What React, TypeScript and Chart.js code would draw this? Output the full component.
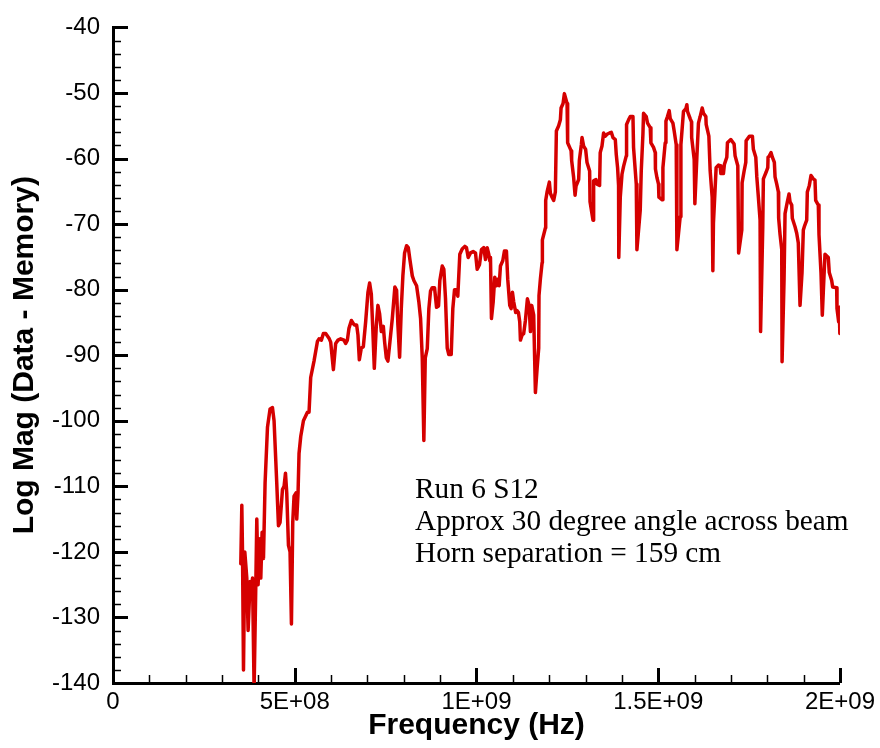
import React, { useEffect, useRef } from "react";
import { Chart, registerables } from "chart.js";

Chart.register(...registerables);

// Frequency in MHz (converted to Hz when building the dataset)
const freqMHz = [
  351.6, 354.4, 356.3, 359, 362.6, 368.1, 371.7, 377.2, 381, 383.8, 388.2, 392.9, 395.6, 399.2, 403.8, 406.6,
  410.2, 414, 418.4, 425, 432.1, 438.7, 443.1, 450.5, 455.2, 459.6, 466.2, 470.6, 474.5, 478, 482.7, 487.1,
  490.9, 494.5, 498.1, 503.6, 505.5, 509.1, 511.8, 516.5, 523.9, 534.9, 539.3, 543.9, 553, 562.4, 566.8,
  573.4, 578.8, 585.2, 594.2, 598.9, 606.3, 612.6, 619, 626.4, 635.4, 640.1, 644.8, 649.2, 655.8, 661.3,
  664.8, 670.3, 673.9, 677.7, 683.2, 688.7, 695.1, 701.4, 706, 710.7, 714.3, 718.9, 724.5, 728.8, 733.5,
  738.2, 743.7, 747.3, 751.9, 756.3, 761.8, 768.4, 775.5, 780.2, 783.8, 788.5, 793.1, 797.5, 802.2, 807.7,
  812.4, 816.8, 823.4, 827.7, 835.2, 841.5, 846.2, 850.8, 855.2, 859.1, 864.6, 869, 873.6, 878.3, 884.6,
  890.1, 895.6, 899.2, 905.8, 910.2, 914.8, 919.5, 923.9, 930.5, 934.9, 939.6, 944.2, 948.6, 954.1, 960.7,
  967.9, 972.5, 977.2, 983.5, 990.9, 997.3, 1001.9, 1008.2, 1013.7, 1020.1, 1024.7, 1029.4, 1033.8, 1036.5,
  1038.5, 1041.2, 1045.9, 1050.3, 1054.9, 1058.5, 1062.4, 1065.9, 1072.3, 1076.9, 1082.4, 1086, 1091.5,
  1095.3, 1098.9, 1102.5, 1108, 1111.8, 1115.4, 1119, 1120.9, 1125.5, 1129.9, 1134.6, 1140.1, 1144.8,
  1148.4, 1151.9, 1157.4, 1162.1, 1166.8, 1171.2, 1172, 1175.8, 1180.5, 1181.3, 1189.6, 1190.4, 1194.2,
  1200.5, 1203.3, 1207.9, 1212.4, 1217, 1219.8, 1226.1, 1230.8, 1232.7, 1238.2, 1241.8, 1249.2, 1250.8,
  1256.3, 1260.2, 1261.8, 1267.3, 1271.2, 1273.9, 1281.1, 1283, 1288.5, 1290.4, 1294.8, 1300.3, 1304.1,
  1311.3, 1312.4, 1320.6, 1322.3, 1328.8, 1331.6, 1338.7, 1340.4, 1345.3, 1349.7, 1354.4, 1359, 1366.2,
  1370.9, 1375.5, 1381.9, 1384.6, 1388.2, 1390.9, 1391.5, 1395.6, 1400.3, 1404.7, 1412.1, 1412.9, 1418.4,
  1423.1, 1430.5, 1432.1, 1439.6, 1441.4, 1450.5, 1453.3, 1457.9, 1459.6, 1467, 1470.6, 1478, 1479.9,
  1487.1, 1491.8, 1492.3, 1496.4, 1500.8, 1501.9, 1511, 1512.9, 1519.2, 1521.2, 1525.5, 1530.2, 1533,
  1540.4, 1543.9, 1549.5, 1551.4, 1560.4, 1562.4, 1569.5, 1576.1, 1578.8, 1580.5, 1587.9, 1591.5, 1592,
  1598.9, 1600.8, 1606.3, 1610.7, 1615.4, 1620.9, 1624.5, 1631, 1631.9, 1639.3, 1642.9, 1648.4, 1650.3,
  1651.9, 1659.3, 1665.7, 1670.3, 1672.3, 1679.4, 1682.1, 1688.7, 1690.4, 1699.7, 1708.8, 1711.5, 1718.9,
  1721.2, 1729.9, 1730.8, 1736.3, 1740.9, 1741.8, 1750.8, 1759.1, 1761.8, 1768.4, 1771.2, 1775.5, 1780.2,
  1781.6, 1787.6, 1789.3, 1796.7, 1801.4, 1802.2, 1805.8, 1810.4, 1814, 1819.5, 1821.4, 1826.1, 1830.5,
  1831.3, 1835.2, 1839.8, 1840.7, 1846.2, 1848.9, 1855.2, 1859.9, 1862.6, 1867.3, 1868.9, 1876.4, 1881,
  1885.4, 1890.1, 1895.6, 1899.2, 1901.9, 1908.5, 1910.2, 1915.7, 1920.3, 1926.6, 1931.3, 1933.2, 1940.4,
  1942.3, 1947.8, 1951.4, 1954.1, 1958.8, 1967.9, 1970.6, 1977.2, 1979.9, 1990.9, 1991.8, 1996.4, 1998.1,
  1999.2, 2000,
];

// Log magnitude (dB)
const magDb = [
  -121.8, -112.9, -120, -138, -120, -124, -132, -124.5, -127, -124, -141, -125, -115, -125, -118, -124,
  -117, -121, -109.5, -101, -98.2, -98, -100, -109.5, -116, -115.5, -110.5, -110, -108, -111, -119, -120,
  -131, -115.5, -111.5, -111, -115, -111, -105, -102.4, -100, -98.7, -98.7, -93.4, -90.9, -87.9, -87.5,
  -87.7, -86.7, -86.7, -87.4, -88, -92.2, -88.2, -87.7, -87.5, -87.7, -88.2, -87.7, -85.9, -84.7, -85.2,
  -85.4, -85.4, -86.9, -90.7, -88.9, -88.7, -84.9, -80.4, -79, -80.7, -85.4, -92, -85.4, -82.4, -83.7,
  -86.4, -85.6, -88, -90.4, -90.9, -88, -84.4, -79.6, -80.1, -85.4, -90.3, -82.9, -77.9, -74.4, -73.3,
  -73.6, -75.4, -77.9, -78.6, -79.4, -81.9, -84.4, -90.4, -103, -90.4, -89, -82.9, -80.2, -79.7, -79.7,
  -82.7, -82.5, -78.6, -76.4, -76.9, -81.4, -88.9, -89.9, -89.9, -82.9, -80, -80, -81, -74.6, -73.8,
  -73.4, -73.6, -75.1, -74.4, -74.2, -74.4, -76.9, -76.2, -73.9, -73.6, -75.4, -73.6, -74.6, -75.6,
  -75.1, -84.4, -81.9, -78.1, -79.4, -78.4, -79.4, -76.4, -75.6, -74.1, -74.1, -78.4, -82.4,
  -82.9, -80.4, -81.9, -83.5, -83.2, -83.5, -84.9, -87.7, -86.9, -86.7, -84.7, -81.4, -82.4,
  -86.4, -82.4, -83.9, -95.7, -92, -88.9, -80.9, -78.4, -75.9, -72.4, -70.6, -66.4, -65.1,
  -63.6, -65.3, -65.9, -66.4, -65.1, -55.8, -55, -54.1, -52.3, -51.6, -50.1, -51.6, -57.6,
  -58.3, -58.8, -60.3, -62.9, -65.6, -64.2, -63.2, -60.3, -57.9, -56.8, -58.1, -58.6, -60.6,
  -61.9, -66.6, -69.4, -63.4, -63.2, -63.9, -64.1, -59.1, -58.1, -56.1, -56.6, -56.3, -56.1,
  -56, -56.8, -57.1, -59.4, -61.4, -64.1, -75.1, -65.9, -62.4, -61.2, -59.6, -54.8, -54.1,
  -53.6, -53.6, -58.3, -63.9, -73.9, -67.9, -61.9, -56.3, -53.1, -53.6, -54.6, -55.3, -57.6,
  -58.3, -59.1, -61.6, -62.9, -63.9, -65.9, -66.3, -61.4, -57.6, -54.3, -53.6, -52.7, -53.9,
  -54.6, -55.8, -57.9, -73.9, -68.9, -57.9, -52.8, -52.4, -51.8, -52.8, -53.9, -54.4, -56.8,
  -60.1, -66.9, -59.8, -54.6, -53.6, -52.3, -53.1, -53.6, -54.8, -56.6, -61.9, -65.9, -77.1,
  -69.9, -61.4, -61, -61.1, -62.3, -62.3, -60.9, -59.8, -57.6, -57.1, -57.8, -59.6, -61.1,
  -74.4, -70.9, -63.7, -61.9, -60.6, -57.3, -56.6, -56.6, -58.6, -59.8, -62.8, -65.9, -69.4,
  -86.4, -70.4, -63.1, -62.1, -61.4, -59.8, -59.6, -59.1, -59.8, -60.6, -62.8, -63.9, -65.1,
  -69.1, -71.6, -73.9, -91, -78.4, -68.4, -66.6, -65.4, -66.6, -67.1, -69.1, -70.4, -71.4,
  -72.9, -82.4, -77.4, -70.9, -70.4, -69.4, -65.1, -64.1, -62.6, -63.1, -63.3, -66.4, -67.1,
  -71.6, -77.4, -83.9, -80.4, -74.6, -75.1, -77.4, -78.6, -79.6, -79.7, -82.9, -84.9, -82.7,
  -82.7, -86.7,
];

const xTickValues = [0, 5e8, 1e9, 1.5e9, 2e9];
const xTickLabels = ["0", "5E+08", "1E+09", "1.5E+09", "2E+09"];
const yTickLabels = ["-140", "-130", "-120", "-110", "-100", "-90", "-80", "-70", "-60", "-50", "-40"];
const annotationLines = ["Run 6 S12", "Approx 30 degree angle across beam", "Horn separation = 159 cm"];
const xTitle = "Frequency (Hz)";
const yTitle = "Log Mag (Data - Memory)";

const SANS = '"Liberation Sans", Arial, sans-serif';
const SERIF = '"Liberation Serif", "Times New Roman", serif';

const tickMarksPlugin = {
  id: "tickMarks",
  afterDraw(chart: any) {
    const ctx = chart.ctx;
    const xs = chart.scales.x;
    const ys = chart.scales.y;
    const { left, bottom } = chart.chartArea;
    ctx.save();
    ctx.strokeStyle = "#000";
    for (let i = 0; i <= 20; i++) {
      const v = i * 1e8;
      const major = i % 5 === 0;
      const px = Math.round(xs.getPixelForValue(v)) + 0.5;
      ctx.lineWidth = major ? 3 : 1.5;
      ctx.beginPath();
      ctx.moveTo(px, bottom);
      ctx.lineTo(px, bottom - (major ? 15 : 8));
      ctx.stroke();
    }
    for (let i = 0; i <= 50; i++) {
      const v = -140 + i * 2;
      const major = i % 5 === 0;
      const py = Math.round(ys.getPixelForValue(v)) + 0.5;
      ctx.lineWidth = major ? 3 : 1.5;
      ctx.beginPath();
      ctx.moveTo(left, py);
      ctx.lineTo(left + (major ? 15 : 8), py);
      ctx.stroke();
    }
    ctx.restore();
  },
};

const annotationPlugin = {
  id: "annotationText",
  afterDraw(chart: any) {
    const ctx = chart.ctx;
    ctx.save();
    ctx.fillStyle = "#000";
    ctx.font = `29.3px ${SERIF}`;
    ctx.textAlign = "left";
    ctx.textBaseline = "alphabetic";
    annotationLines.forEach((line, i) => {
      ctx.fillText(line, 415, 498 + i * 31.8);
    });
    ctx.restore();
  },
};

export default function App() {
  const canvasRef = useRef<HTMLCanvasElement | null>(null);

  useEffect(() => {
    if (!canvasRef.current) return;
    const points = freqMHz.map((f, i) => ({ x: f * 1e6, y: magDb[i] }));
    const chart = new Chart(canvasRef.current, {
      type: "line",
      data: {
        datasets: [
          {
            data: points,
            borderColor: "#d50000",
            borderWidth: 3.5,
            borderJoinStyle: "round",
            borderCapStyle: "round",
            pointRadius: 0,
            tension: 0,
            fill: false,
          },
        ],
      },
      options: {
        animation: false,
        responsive: false,
        parsing: false as any,
        layout: { padding: { left: 0, top: 19, right: 40, bottom: 0 } },
        plugins: {
          legend: { display: false },
          tooltip: { enabled: false },
          title: { display: false },
        },
        scales: {
          x: {
            type: "linear",
            min: 0,
            max: 2e9,
            afterFit: (s: any) => {
              s.height = 65;
            },
            afterBuildTicks: (s: any) => {
              s.ticks = xTickValues.map((v) => ({ value: v }));
            },
            grid: { display: false, drawTicks: false },
            border: { display: true, color: "#000", width: 3 },
            ticks: {
              color: "#000",
              font: { family: SANS, size: 24 },
              padding: 5,
              maxRotation: 0,
              autoSkip: false,
              callback: (v: any) => {
                const idx = xTickValues.indexOf(Number(v));
                return idx >= 0 ? xTickLabels[idx] : "";
              },
            },
            title: {
              display: true,
              text: xTitle,
              color: "#000",
              font: { family: SANS, size: 30, weight: "bold" },
              padding: { top: 0, bottom: 4 },
            },
          },
          y: {
            type: "linear",
            min: -140,
            max: -40,
            afterFit: (s: any) => {
              s.width = 113;
            },
            grid: { display: false, drawTicks: false },
            border: { display: true, color: "#000", width: 3 },
            ticks: {
              stepSize: 10,
              color: "#000",
              font: { family: SANS, size: 24 },
              padding: 13,
              autoSkip: false,
              callback: (v: any) => {
                const idx = Math.round((Number(v) + 140) / 10);
                return yTickLabels[idx] ?? "";
              },
            },
            title: {
              display: true,
              text: yTitle,
              color: "#000",
              font: { family: SANS, size: 30, weight: "bold" },
              padding: { top: 7, bottom: 0 },
            },
          },
        },
      },
      plugins: [tickMarksPlugin, annotationPlugin],
    });
    return () => chart.destroy();
  }, []);

  return (
    <div style={{ position: "absolute", left: 0, top: 0, width: 880, height: 748, background: "#fff" }}>
      <canvas ref={canvasRef} width={880} height={748} style={{ display: "block" }} />
    </div>
  );
}
